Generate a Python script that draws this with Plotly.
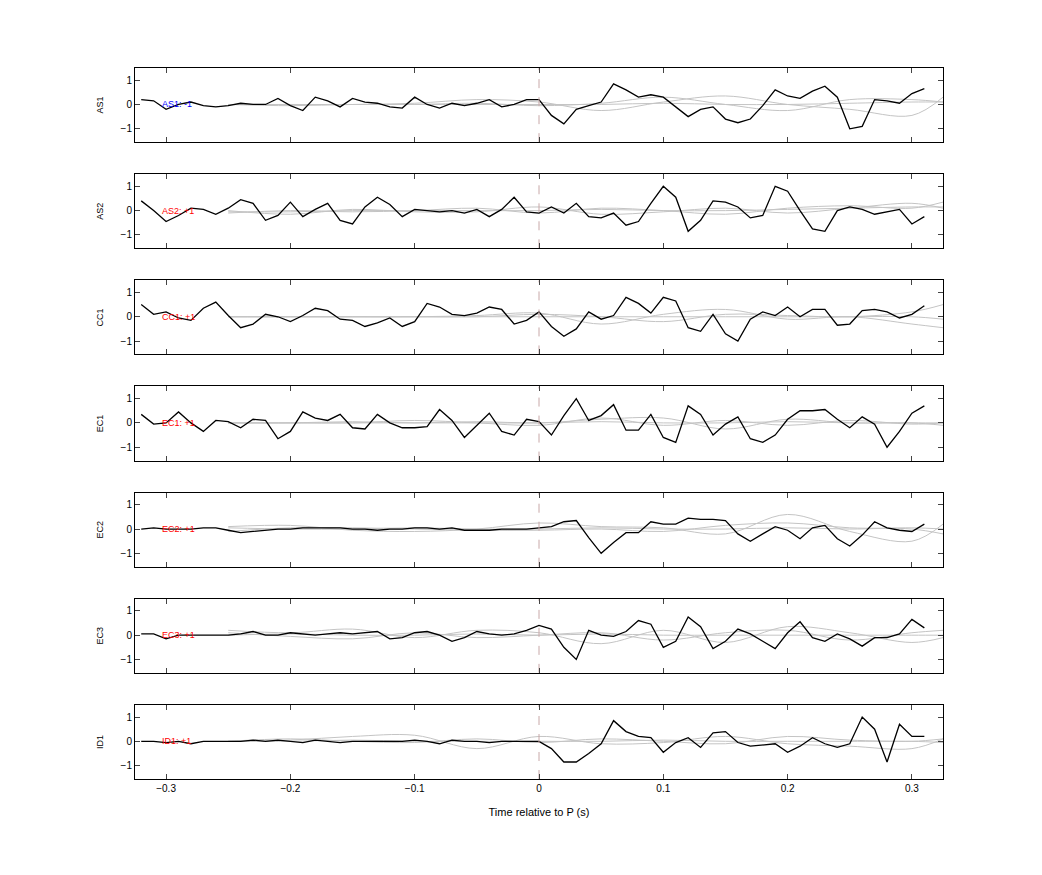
import plotly.graph_objects as go
from plotly.subplots import make_subplots

stations = ['AS1', 'AS2', 'CC1', 'EC1', 'EC2', 'EC3', 'ID1']
polarity = ['-1', '+1', '+1', '+1', '+1', '+1', '+1']
label_colors = ['blue', 'red', 'red', 'red', 'red', 'red', 'red']

t = [round(-0.32 + 0.01 * i, 2) for i in range(64)]

traces = {
    'AS1': [0.2, 0.15, -0.2, 0.0, 0.1, -0.05, -0.1, -0.05, 0.05, 0.0, 0.0, 0.25, -0.05, -0.25, 0.3, 0.15,
            -0.1, 0.25, 0.1, 0.05, -0.1, -0.15, 0.3, 0.0, -0.15, 0.05, -0.05, 0.05, 0.2, -0.1, 0.0, 0.2,
            0.2, -0.45, -0.8, -0.2, -0.05, 0.1, 0.85, 0.6, 0.3, 0.4, 0.3, -0.1, -0.5, -0.2, -0.1, -0.6,
            -0.75, -0.6, -0.05, 0.6, 0.35, 0.25, 0.55, 0.75, 0.3, -1.0, -0.9, 0.2, 0.15, 0.05, 0.45, 0.65],
    'AS2': [0.4, 0.0, -0.45, -0.2, 0.1, 0.05, -0.15, 0.1, 0.45, 0.3, -0.4, -0.2, 0.35, -0.25, 0.05, 0.3,
            -0.4, -0.55, 0.15, 0.55, 0.25, -0.25, 0.05, 0.0, -0.05, 0.0, -0.1, 0.05, -0.25, 0.05, 0.55, -0.05,
            -0.1, 0.15, -0.1, 0.3, -0.25, -0.3, -0.1, -0.6, -0.45, 0.3, 1.0, 0.55, -0.85, -0.4, 0.4, 0.35,
            0.15, -0.3, -0.2, 1.0, 0.8, 0.0, -0.75, -0.85, 0.0, 0.15, 0.05, -0.15, -0.05, 0.05, -0.55, -0.25],
    'CC1': [0.5, 0.1, 0.2, -0.05, -0.15, 0.35, 0.6, 0.05, -0.45, -0.3, 0.1, 0.0, -0.2, 0.05, 0.35, 0.25,
            -0.1, -0.15, -0.4, -0.25, -0.05, -0.4, -0.2, 0.55, 0.4, 0.1, 0.05, 0.15, 0.4, 0.3, -0.3, -0.15,
            0.2, -0.4, -0.8, -0.5, 0.2, -0.1, 0.05, 0.8, 0.55, 0.15, 0.8, 0.65, -0.45, -0.6, 0.1, -0.7,
            -1.0, -0.1, 0.2, 0.05, 0.4, 0.0, 0.3, 0.3, -0.35, -0.3, 0.25, 0.3, 0.2, -0.05, 0.1, 0.45],
    'EC1': [0.35, -0.05, 0.0, 0.45, 0.0, -0.35, 0.1, 0.05, -0.2, 0.15, 0.1, -0.65, -0.35, 0.45, 0.2, 0.1,
            0.35, -0.2, -0.25, 0.35, 0.0, -0.2, -0.2, -0.15, 0.55, 0.1, -0.6, -0.1, 0.4, -0.35, -0.5, 0.15,
            0.05, -0.5, 0.3, 1.0, 0.1, 0.3, 0.75, -0.3, -0.3, 0.35, -0.6, -0.8, 0.7, 0.35, -0.5, -0.05,
            0.25, -0.65, -0.8, -0.5, 0.15, 0.5, 0.5, 0.55, 0.15, -0.2, 0.25, -0.05, -1.0, -0.35, 0.4, 0.7],
    'EC2': [0.0, 0.05, 0.0, 0.0, 0.0, 0.05, 0.05, -0.05, -0.15, -0.1, -0.05, 0.0, 0.0, 0.05, 0.05, 0.05,
            0.05, 0.0, 0.0, -0.05, 0.0, 0.0, 0.05, 0.05, 0.0, 0.05, -0.05, -0.05, -0.05, 0.0, 0.0, 0.0,
            0.05, 0.1, 0.3, 0.35, -0.35, -1.0, -0.55, -0.15, -0.15, 0.3, 0.2, 0.2, 0.45, 0.4, 0.4, 0.35,
            -0.2, -0.5, -0.2, 0.1, -0.05, -0.4, 0.05, 0.15, -0.4, -0.7, -0.25, 0.3, 0.05, -0.05, -0.1, 0.2],
    'EC3': [0.05, 0.05, -0.15, 0.0, 0.0, 0.0, 0.0, 0.0, 0.05, 0.15, 0.0, 0.0, 0.1, 0.05, 0.0, 0.05,
            0.1, 0.05, 0.1, 0.15, -0.15, -0.1, 0.1, 0.15, 0.0, -0.25, -0.1, 0.15, 0.05, 0.0, 0.05, 0.2,
            0.4, 0.25, -0.5, -1.0, 0.2, 0.0, -0.05, 0.15, 0.6, 0.45, -0.5, -0.25, 0.75, 0.35, -0.55, -0.25,
            0.25, 0.05, -0.25, -0.55, 0.1, 0.55, -0.1, -0.25, 0.05, -0.15, -0.45, -0.1, -0.1, 0.05, 0.65, 0.3],
    'ID1': [0.0, 0.0, -0.05, 0.0, -0.1, 0.0, 0.0, 0.0, 0.0, 0.05, 0.0, 0.05, 0.0, -0.05, 0.05, 0.0,
            -0.05, 0.0, 0.0, 0.0, 0.0, 0.0, 0.05, 0.0, -0.1, 0.05, 0.0, 0.0, -0.05, 0.0, 0.0, 0.0,
            0.0, -0.3, -0.85, -0.85, -0.5, -0.1, 0.85, 0.4, 0.2, 0.15, -0.45, -0.05, 0.15, -0.25, 0.35, 0.4,
            -0.05, -0.2, -0.15, -0.1, -0.45, -0.2, 0.15, -0.1, -0.25, -0.1, 1.0, 0.5, -0.85, 0.7, 0.2, 0.2],
}

# smooth grey reference traces, coarse knots drawn as splines
grey_t = [-0.25, -0.2, -0.15, -0.1, -0.05, 0.0, 0.05, 0.1, 0.15, 0.2, 0.25, 0.3, 0.325]
grey = {
    'AS1': [[0.0, 0.0, 0.0, 0.05, 0.2, 0.1, -0.25, 0.1, 0.35, 0.0, -0.2, -0.45, 0.3],
            [0.0, -0.05, 0.0, 0.0, 0.05, -0.05, 0.05, 0.3, 0.0, -0.25, 0.2, 0.2, 0.1],
            [0.0, 0.0, 0.0, 0.0, 0.0, 0.0, 0.0, 0.05, 0.0, 0.0, 0.05, 0.1, 0.1]],
    'AS2': [[-0.1, 0.0, -0.05, 0.0, 0.1, -0.1, 0.1, 0.0, -0.15, 0.1, 0.2, 0.1, 0.35],
            [0.0, -0.15, 0.05, -0.05, -0.05, 0.15, -0.15, -0.05, 0.1, -0.1, 0.1, 0.3, 0.1],
            [-0.05, -0.05, 0.0, 0.0, 0.0, 0.0, 0.05, 0.0, 0.0, 0.05, 0.1, 0.15, 0.15]],
    'CC1': [[0.0, 0.0, 0.0, 0.0, 0.05, 0.15, -0.3, 0.1, 0.3, -0.1, 0.0, -0.3, -0.45],
            [0.0, 0.0, 0.0, 0.0, 0.0, 0.1, 0.0, -0.2, 0.1, 0.05, 0.0, 0.2, 0.5],
            [0.0, 0.0, 0.0, 0.0, 0.0, 0.0, 0.0, 0.0, 0.0, 0.0, 0.0, 0.0, -0.1]],
    'EC1': [[0.0, 0.0, 0.05, 0.0, 0.05, 0.0, 0.15, 0.2, -0.25, 0.15, 0.0, 0.0, -0.1],
            [0.0, 0.0, 0.0, 0.1, 0.0, -0.1, 0.2, -0.1, 0.1, -0.1, 0.1, -0.05, 0.0],
            [0.0, 0.0, 0.0, 0.0, 0.0, 0.0, 0.05, 0.0, 0.0, 0.05, 0.0, 0.0, 0.0]],
    'EC2': [[0.1, 0.15, -0.05, -0.1, 0.0, 0.25, 0.1, 0.05, -0.2, 0.6, -0.1, -0.5, 0.2],
            [-0.1, 0.05, 0.05, 0.0, -0.05, -0.05, 0.0, -0.1, 0.15, 0.25, 0.05, 0.0, -0.2],
            [0.05, 0.0, 0.0, 0.05, 0.0, 0.0, 0.05, 0.0, 0.0, 0.05, 0.0, 0.05, 0.0]],
    'EC3': [[0.2, 0.1, 0.25, -0.1, 0.2, 0.1, -0.35, 0.2, -0.3, 0.35, 0.1, -0.3, -0.1],
            [0.1, -0.05, -0.15, 0.1, -0.1, 0.0, 0.1, -0.2, 0.1, 0.2, -0.2, 0.1, 0.2],
            [0.0, 0.05, 0.0, 0.0, 0.05, 0.0, 0.05, 0.0, 0.0, 0.0, 0.0, 0.0, 0.0]],
    'ID1': [[0.0, 0.05, 0.2, 0.25, -0.3, 0.2, -0.1, -0.05, 0.2, -0.1, -0.2, -0.3, 0.1],
            [0.0, 0.1, 0.0, -0.05, 0.1, -0.05, 0.1, 0.0, -0.1, 0.2, 0.05, 0.0, 0.1],
            [0.0, 0.0, 0.05, 0.0, 0.0, 0.0, 0.0, 0.05, 0.0, 0.0, 0.0, 0.0, -0.05]],
}

fig = make_subplots(rows=7, cols=1, shared_xaxes=True, vertical_spacing=0.045)

for i, st in enumerate(stations):
    r = i + 1
    for g in grey[st]:
        fig.add_trace(go.Scatter(x=grey_t, y=g, mode='lines', line=dict(color='#c4c4c4', width=1, shape='spline'),
                                 showlegend=False, hoverinfo='skip'), row=r, col=1)
    fig.add_trace(go.Scatter(x=t, y=traces[st], mode='lines', line=dict(color='black', width=1.3),
                             showlegend=False), row=r, col=1)
    fig.add_trace(go.Scatter(x=[0, 0], y=[-1.55, 1.5], mode='lines',
                             line=dict(color='#c8a8a8', width=1, dash='dash'),
                             showlegend=False, hoverinfo='skip'), row=r, col=1)
    fig.add_annotation(x=-0.305, y=0, text=st + ': ' + polarity[i], showarrow=False, xanchor='left',
                       font=dict(size=9, color=label_colors[i]), row=r, col=1)
    fig.update_yaxes(title_text=st, title_font=dict(size=9), range=[-1.55, 1.5], tickvals=[-1, 0, 1],
                     row=r, col=1)

fig.update_xaxes(range=[-0.325, 0.325], tickvals=[-0.3, -0.2, -0.1, 0, 0.1, 0.2, 0.3],
                 ticks='inside', ticklen=5, showline=True, linecolor='black', mirror='ticks',
                 showgrid=False, zeroline=False, tickfont=dict(size=10))
fig.update_yaxes(ticks='inside', ticklen=5, showline=True, linecolor='black', mirror='ticks',
                 showgrid=False, zeroline=False, tickfont=dict(size=10))
fig.update_xaxes(title_text='Time relative to P (s)', title_font=dict(size=11), row=7, col=1)

fig.update_layout(width=1042, height=875, plot_bgcolor='white', paper_bgcolor='white',
                  margin=dict(l=127, r=107, t=60, b=104),
                  font=dict(family='Liberation Sans, Arial, sans-serif', color='black'))

fig.write_html("out.html")
